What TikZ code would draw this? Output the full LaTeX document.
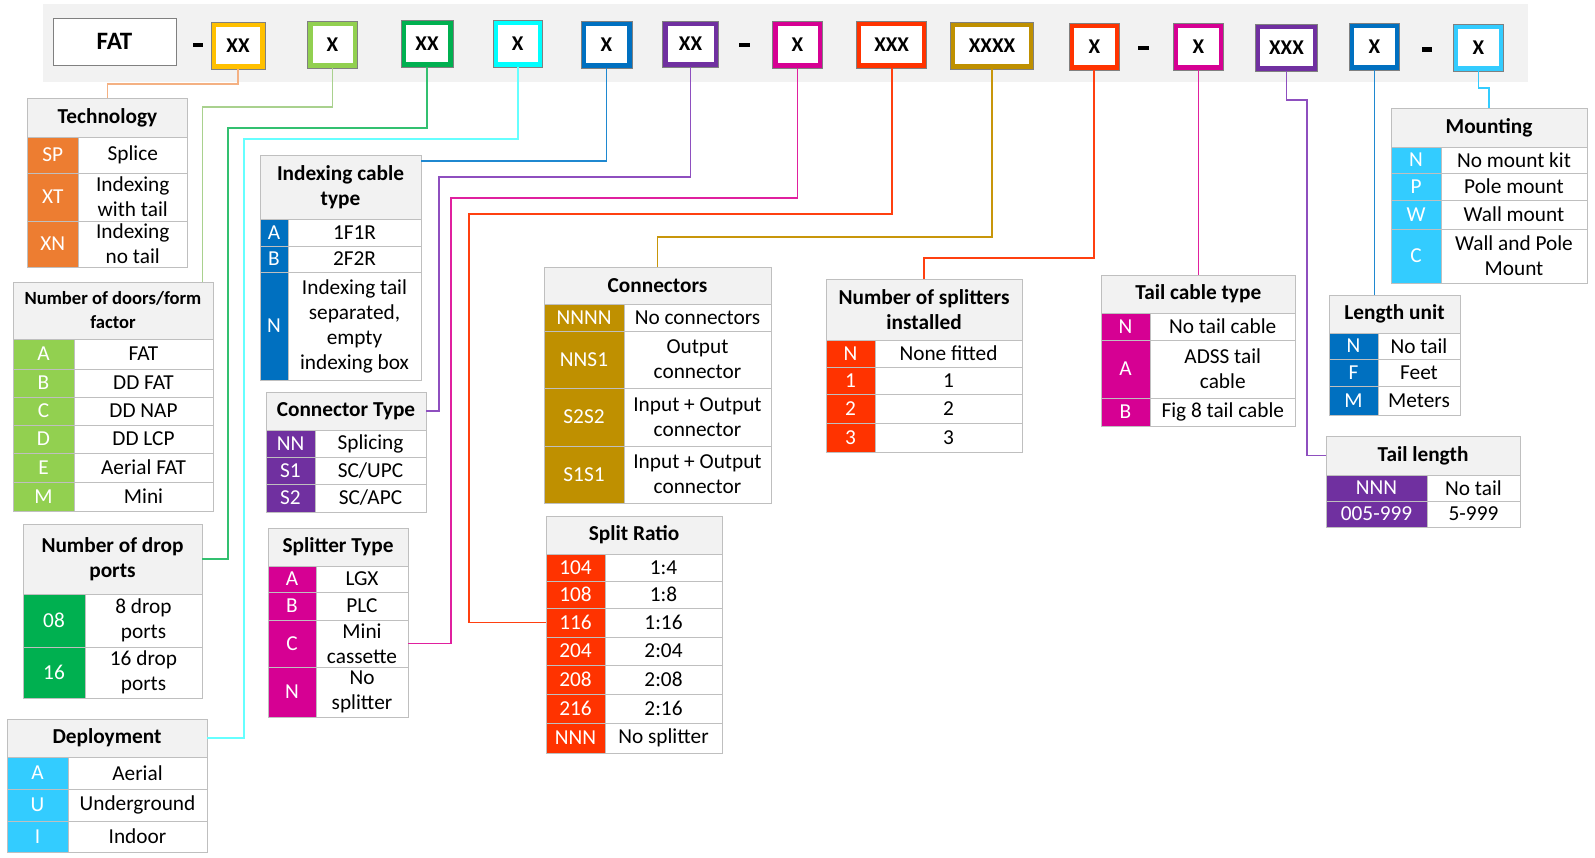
\documentclass[tikz,border=0pt]{standalone}
\usepackage{fontspec}
\setmainfont{Carlito}
\definecolor{cBand}{HTML}{F2F2F2}
\definecolor{cHdr}{HTML}{F2F2F2}
\definecolor{cBorder}{HTML}{BFBFBF}
\definecolor{cOut}{HTML}{808080}
\definecolor{cOrange}{HTML}{ED7D31}
\definecolor{cGoldL}{HTML}{FFC000}
\definecolor{cLgreen}{HTML}{92D050}
\definecolor{cGreen}{HTML}{00B050}
\definecolor{cCyan}{HTML}{00FFFF}
\definecolor{cBlue}{HTML}{0070C0}
\definecolor{cPurple}{HTML}{7030A0}
\definecolor{cMagenta}{HTML}{D60093}
\definecolor{cRed}{HTML}{FF3300}
\definecolor{cGold}{HTML}{BF9000}
\definecolor{cLblue}{HTML}{33CCFF}
\definecolor{lOrange}{HTML}{F4B183}
\definecolor{lLgreen}{HTML}{A9D18E}
\definecolor{lGreen}{HTML}{33C070}
\definecolor{lCyan}{HTML}{66FFFF}
\definecolor{lBlue}{HTML}{1F88D0}
\definecolor{lPurple}{HTML}{8E4FBF}
\definecolor{lMagenta}{HTML}{E0209F}
\definecolor{lRed}{HTML}{FF4010}
\definecolor{lGold}{HTML}{C8960A}
\definecolor{lLblue}{HTML}{33CCFF}
\newcommand\tf{\fontsize{21.3}{25}\selectfont}
\newcommand\cel[7]{\pgfmathsetmacro\mycw{#4-#2}\pgfmathsetmacro\mych{#5-#3}%
  \node[#6,minimum width=\mycw pt,minimum height=\mych pt,anchor=north west] (#1) at (#2,#3) {#7};}
\newcommand\trow[9]{\cel{#1c}{#2}{#5}{#3}{#6}{codecell,fill=#7}{#8}\cel{#1v}{#3}{#5}{#4}{#6}{valcell}{#9}}
\newcommand\topbox[7]{\pgfmathsetmacro\mycw{#4-#2-5}\pgfmathsetmacro\mych{#5-#3-5}%
  \node[topb,draw=#6,minimum width=\mycw pt,minimum height=\mych pt] (#1) at ({(#2+#4)/2},{(#3+#5)/2}) {#7};
  \draw[outl] (#1.south west) rectangle (#1.north east);}
\tikzset{
  cellbase/.style={inner sep=0pt, outer sep=0pt, line width=1pt, draw=cBorder, align=center, font=\tf},
  hdrcell/.style={cellbase, fill=cHdr, font=\tf\bfseries},
  codecell/.style={cellbase, text=white},
  valcell/.style={cellbase, fill=white, text=black},
  topb/.style={fill=white, line width=5pt, inner sep=0pt, font=\fontsize{21}{24}\selectfont\bfseries},
  outl/.style={draw=cOut, line width=0.8pt},
  fatbox/.style={draw=cOut, line width=1pt, fill=white, inner sep=0pt, font=\fontsize{25}{28}\selectfont\bfseries},
  conn/.style={line width=1.8pt},
}
\begin{document}
\begin{tikzpicture}[x=1pt,y=-1pt]
\useasboundingbox (0,0) rectangle (1595,857);
\fill[cBand] (43,4) rectangle (1528,82);
% top code boxes
\node[fatbox, minimum width=123pt, minimum height=47pt] (fat) at (114.5,41.5) {FAT};
\fill (193,42.7) rectangle (203,46.7);
\topbox{b1}{211}{22}{265}{69}{cGoldL}{XX}
\topbox{b2}{307.5}{21}{357.5}{68}{cLgreen}{X}
\topbox{b3}{401}{20}{453}{67}{cGreen}{XX}
\topbox{b4}{493}{20}{542.5}{67}{cCyan}{X}
\topbox{b5}{581}{21}{632}{68}{cBlue}{X}
\topbox{b6}{662.5}{21}{718.5}{67}{cPurple}{XX}
\fill (738.6,42.7) rectangle (750,47);
\topbox{b7}{772.5}{21}{822.5}{68}{cMagenta}{X}
\topbox{b8}{856.4}{21}{926.8}{68}{cRed}{XXX}
\topbox{b9}{950.4}{22}{1033.6}{69}{cGold}{XXXX}
\topbox{b10}{1069}{23}{1119.7}{70}{cRed}{X}
\fill (1138,45.7) rectangle (1149,50);
\topbox{b11}{1173.3}{23.3}{1223.7}{70.3}{cMagenta}{X}
\topbox{b12}{1255.3}{24.3}{1317.7}{71.3}{cPurple}{XXX}
\topbox{b13}{1349.3}{23.3}{1399.7}{70.3}{cBlue}{X}
\fill (1421.7,47.3) rectangle (1432.3,52);
\topbox{b14}{1453.3}{24.3}{1503.7}{71.3}{cLblue}{X}
% Technology
\cel{techh}{27.5}{98}{187.5}{137}{hdrcell}{Technology}
\trow{tSP}{27.5}{78}{187.5}{137}{173}{cOrange}{SP}{Splice}
\trow{tXT}{27.5}{78}{187.5}{173}{221}{cOrange}{XT}{Indexing\\with tail}
\trow{tXN}{27.5}{78}{187.5}{221}{267}{cOrange}{XN}{Indexing\\no tail}
% Doors
\cel{doorh}{13}{282}{213}{339}{hdrcell,font=\fontsize{18.6}{24}\selectfont\bfseries}{Number of doors/form\\factor}
\trow{dA}{13}{74}{213}{339}{369}{cLgreen}{A}{FAT}
\trow{dB}{13}{74}{213}{369}{397}{cLgreen}{B}{DD FAT}
\trow{dC}{13}{74}{213}{397}{425}{cLgreen}{C}{DD NAP}
\trow{dD}{13}{74}{213}{425}{453}{cLgreen}{D}{DD LCP}
\trow{dE}{13}{74}{213}{453}{482}{cLgreen}{E}{Aerial FAT}
\trow{dM}{13}{74}{213}{482}{511}{cLgreen}{M}{Mini}
% Drop ports
\cel{droph}{23}{524}{202}{594}{hdrcell}{Number of drop\\ports}
\trow{p08}{23}{85}{202}{594}{647}{cGreen}{08}{8 drop\\ports}
\trow{p16}{23}{85}{202}{647}{698}{cGreen}{16}{16 drop\\ports}
% Deployment
\cel{deph}{7}{719}{207}{757}{hdrcell}{Deployment}
\trow{eA}{7}{68}{207}{757}{789}{cLblue}{A}{Aerial}
\trow{eU}{7}{68}{207}{789}{821}{cLblue}{U}{Underground}
\trow{eI}{7}{68}{207}{821}{852}{cLblue}{I}{Indoor}
% Indexing cable type
\cel{idxh}{260}{155}{421}{219}{hdrcell}{Indexing cable\\type}
\trow{iA}{260}{288}{421}{219}{246}{cBlue}{A}{1F1R}
\trow{iB}{260}{288}{421}{246}{272}{cBlue}{B}{2F2R}
\trow{iN}{260}{288}{421}{272}{380}{cBlue}{N}{Indexing tail\\separated,\\empty\\indexing box}
% Connector type
\cel{cth}{266}{392}{426}{430}{hdrcell}{Connector Type}
\trow{cNN}{266}{315}{426}{430}{457}{cPurple}{NN}{Splicing}
\trow{cS1}{266}{315}{426}{457}{484}{cPurple}{S1}{SC/UPC}
\trow{cS2}{266}{315}{426}{484}{512}{cPurple}{S2}{SC/APC}
% Splitter type
\cel{sth}{268}{528}{408}{566}{hdrcell}{Splitter Type}
\trow{sA}{268}{316}{408}{566}{592}{cMagenta}{A}{LGX}
\trow{sB}{268}{316}{408}{592}{620}{cMagenta}{B}{PLC}
\trow{sC}{268}{316}{408}{620}{667}{cMagenta}{C}{Mini\\cassette}
\trow{sN}{268}{316}{408}{667}{717}{cMagenta}{N}{No\\splitter}
% Connectors
\cel{conh}{544}{267}{771}{304}{hdrcell}{Connectors}
\trow{nN4}{544}{624}{771}{304}{331}{cGold}{NNNN}{No connectors}
\trow{nNS}{544}{624}{771}{331}{388}{cGold}{NNS1}{Output\\connector}
\trow{nSS}{544}{624}{771}{388}{446}{cGold}{S2S2}{Input + Output\\connector}
\trow{nST}{544}{624}{771}{446}{503}{cGold}{S1S1}{Input + Output\\connector}
% Split ratio
\cel{srh}{546}{516}{722}{554}{hdrcell}{Split Ratio}
\trow{rA}{546}{605}{722}{554}{581}{cRed}{104}{1:4}
\trow{rB}{546}{605}{722}{581}{608}{cRed}{108}{1:8}
\trow{rC}{546}{605}{722}{608}{637}{cRed}{116}{1:16}
\trow{rD}{546}{605}{722}{637}{665}{cRed}{204}{2:04}
\trow{rE}{546}{605}{722}{665}{694}{cRed}{208}{2:08}
\trow{rF}{546}{605}{722}{694}{723}{cRed}{216}{2:16}
\trow{rG}{546}{605}{722}{723}{753}{cRed}{NNN}{No splitter}
% Number of splitters
\cel{nsh}{826}{279}{1022}{340}{hdrcell}{Number of splitters\\installed}
\trow{qN}{826}{875}{1022}{340}{367}{cRed}{N}{None fitted}
\trow{qA}{826}{875}{1022}{367}{394}{cRed}{1}{1}
\trow{qB}{826}{875}{1022}{394}{423}{cRed}{2}{2}
\trow{qC}{826}{875}{1022}{423}{452}{cRed}{3}{3}
% Tail cable type
\cel{tch}{1101}{275}{1295.5}{313}{hdrcell}{Tail cable type}
\trow{kN}{1101}{1150}{1295.5}{313}{340}{cMagenta}{N}{No tail cable}
\trow{kA}{1101}{1150}{1295.5}{340}{398}{cMagenta}{A}{ADSS tail\\cable}
\trow{kB}{1101}{1150}{1295.5}{398}{426}{cMagenta}{B}{Fig 8 tail cable}
% Length unit
\cel{luh}{1329}{295}{1460}{333}{hdrcell}{Length unit}
\trow{uN}{1329}{1378}{1460}{333}{359}{cBlue}{N}{No tail}
\trow{uF}{1329}{1378}{1460}{359}{386}{cBlue}{F}{Feet}
\trow{uM}{1329}{1378}{1460}{386}{415}{cBlue}{M}{Meters}
% Tail length
\cel{tlh}{1326}{436}{1520}{475}{hdrcell}{Tail length}
\trow{lN}{1326}{1427}{1520}{475}{501}{cPurple}{NNN}{No tail}
\trow{lR}{1326}{1427}{1520}{501}{527}{cPurple}{005-999}{5-999}
% Mounting
\cel{mth}{1391}{108}{1587}{147}{hdrcell}{Mounting}
\trow{mN}{1391}{1441}{1587}{147}{173}{cLblue}{N}{No mount kit}
\trow{mP}{1391}{1441}{1587}{173}{200}{cLblue}{P}{Pole mount}
\trow{mW}{1391}{1441}{1587}{200}{229}{cLblue}{W}{Wall mount}
\trow{mC}{1391}{1441}{1587}{229}{283}{cLblue}{C}{Wall and Pole\\Mount}
% connectors
\coordinate (o1) at (107.5,84);
\coordinate (lg1) at (202.5,107);
\coordinate (g1) at (228,128);
\coordinate (c1) at (244,139);
\coordinate (bl1) at (421,161);
\coordinate (p1) at (439,177);
\coordinate (m1) at (451,198);
\coordinate (r1) at (469,214);
\coordinate (gd1) at (657.5,237);
\coordinate (r2) at (924,258);
\coordinate (p2) at (1307,100);
\coordinate (lb1) at (1489,88);
\draw[conn,lOrange] (b1.south) |- (o1) -- (techh.north);
\draw[conn,lLgreen] (b2.south) |- (lg1) -- (lg1 |- doorh.north);
\draw[conn,lGreen] (b3.south) |- (g1) |- (droph.east);
\draw[conn,lCyan] (b4.south) |- (c1) |- (deph.east);
\draw[conn,lBlue] (b5.south) |- (bl1);
\draw[conn,lPurple] (b6.south) |- (p1) |- (cth.east);
\draw[conn,lMagenta] (b7.south) |- (m1) |- (sCv.east);
\draw[conn,lRed] (b8.south) |- (r1) |- (rCc.west);
\draw[conn,lGold] (b9.south) |- (gd1) -| (conh.north);
\draw[conn,lRed] (b10.south) |- (r2) -| (nsh.north);
\draw[conn,lMagenta] (b11.south) -- (b11.south |- tch.north);
\draw[conn,lPurple] (b12.south) |- (p2) |- (tlh.west);
\draw[conn,lBlue] (b13.south) -- (b13.south |- luh.north);
\draw[conn,lLblue] (b14.south) |- (lb1) -| (mth.north);
\end{tikzpicture}
\end{document}
